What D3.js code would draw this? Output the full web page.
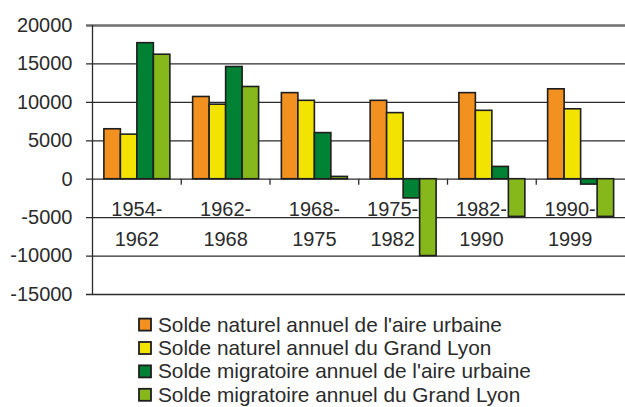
<!DOCTYPE html>
<html>
<head>
<meta charset="utf-8">
<script src="https://cdn.jsdelivr.net/npm/d3@7"></script>
<style>
  html, body { margin: 0; padding: 0; background: #fff; }
  svg { display: block; font-family: "Liberation Sans", Arial, sans-serif; }
</style>
</head>
<body>
<svg id="chart" width="625" height="407"></svg>
<script>
// Périodes intercensitaires
const periods = [["1954-", "1962"], ["1962-", "1968"], ["1968-", "1975"], ["1975-", "1982"], ["1982-", "1990"], ["1990-", "1999"]];
const periodKeys = periods.map(p => p.join(""));

// Soldes annuels (habitants / an)
const naturelAire   = [6500, 10700, 11200, 10200, 11200, 11700];
const naturelLyon   = [5800,  9700, 10200,  8600,  8900,  9100];
const migratoireAire = [17700, 14600, 6000, -2500, 1600, -700];
const migratoireLyon = [16200, 12000, 300, -10000, -4900, -4900];

const seriesNames = [
  "Solde naturel annuel de l'aire urbaine",
  "Solde naturel annuel du Grand Lyon",
  "Solde migratoire annuel de l'aire urbaine",
  "Solde migratoire annuel du Grand Lyon"
];
const seriesColors = ["#f39120", "#f2e400", "#008134", "#86b81c"];
const yTicks = [20000, 15000, 10000, 5000, 0, -5000, -10000, -15000];

const seriesValues = [naturelAire, naturelLyon, migratoireAire, migratoireLyon];

const svg = d3.select("#chart");
const plotLeft = 92.5, plotRight = 625, plotTop = 25, plotBottom = 294;

const y = d3.scaleLinear().domain([-15000, 20000]).range([plotBottom, plotTop]);
const x0 = d3.scaleBand().domain(periodKeys).range([plotLeft, plotRight]).padding(0);
const x1 = d3.scaleBand().domain(d3.range(4)).range([0, x0.bandwidth()])
  .paddingInner(0).paddingOuter(0.69);

// Axe vertical avec lignes de grille
const yAxis = d3.axisLeft(y)
  .tickValues(yTicks)
  .tickSizeInner(-(plotRight - plotLeft))
  .tickSizeOuter(0)
  .tickPadding(20)
  .tickFormat(d => String(d));

const gy = svg.append("g").attr("transform", `translate(${plotLeft},0)`).call(yAxis);
gy.select(".domain").remove();
gy.selectAll(".tick line")
  .attr("x1", -6.5)
  .attr("stroke", d => d === 20000 ? "#6e6e6e" : "#2b2b2b")
  .attr("stroke-width", d => d === 20000 ? 2.5 : 1.3);
gy.selectAll(".tick text")
  .attr("fill", "#2b2b2b")
  .style("font-size", "20px")
  .style("font-family", "'Liberation Sans', Arial, sans-serif");

// Trait vertical de l'axe
svg.append("line")
  .attr("x1", plotLeft).attr("x2", plotLeft)
  .attr("y1", y(20000)).attr("y2", y(-15000))
  .attr("stroke", "#2b2b2b").attr("stroke-width", 1.3);

// Libellés des périodes (décalés à gauche quand une barre descend sous zéro)
const labelX = i => {
  const c = x0(periodKeys[i]) + x0.bandwidth() / 2;
  const hasNegative = seriesValues.some(vals => vals[i] < 0);
  return hasNegative ? c - 10.5 : c;
};
const labels = svg.append("g").selectAll("text").data(periods).join("text")
  .attr("text-anchor", "middle")
  .attr("fill", "#2b2b2b")
  .style("font-size", "20px")
  .attr("x", (d, i) => labelX(i));
labels.append("tspan").attr("y", 216).text(d => d[0]);
labels.append("tspan").attr("y", 246)
  .attr("x", (d, i) => labelX(i))
  .text(d => d[1]);

// Barres
const groups = svg.append("g").selectAll("g").data(periodKeys).join("g")
  .attr("transform", d => `translate(${x0(d)},0)`);

groups.selectAll("rect")
  .data((d, i) => seriesValues.map((vals, s) => ({ s, v: vals[i] })))
  .join("rect")
  .attr("x", d => x1(d.s))
  .attr("width", x1.bandwidth())
  .attr("y", d => y(Math.max(0, d.v)))
  .attr("height", d => Math.abs(y(d.v) - y(0)))
  .attr("fill", d => seriesColors[d.s])
  .attr("stroke", "#1e1e1e")
  .attr("stroke-width", 1.6);

// Graduations entre périodes
svg.append("g").selectAll("line").data(periodKeys.slice(1)).join("line")
  .attr("x1", d => x0(d)).attr("x2", d => x0(d))
  .attr("y1", y(0)).attr("y2", y(0) + 6)
  .attr("stroke", "#2b2b2b").attr("stroke-width", 1.3);

// Légende
const legend = svg.append("g").selectAll("g").data(seriesNames).join("g")
  .attr("transform", (d, i) => `translate(138,${324.6 + i * 23.4})`);
legend.append("rect")
  .attr("x", 1).attr("y", -6).attr("width", 12).attr("height", 12)
  .attr("fill", (d, i) => seriesColors[i])
  .attr("stroke", "#1e1e1e").attr("stroke-width", 1.8);
legend.append("text")
  .attr("x", 20).attr("y", 7)
  .attr("fill", "#2b2b2b")
  .style("font-size", "20.8px")
  .text(d => d);
</script>
</body>
</html>
